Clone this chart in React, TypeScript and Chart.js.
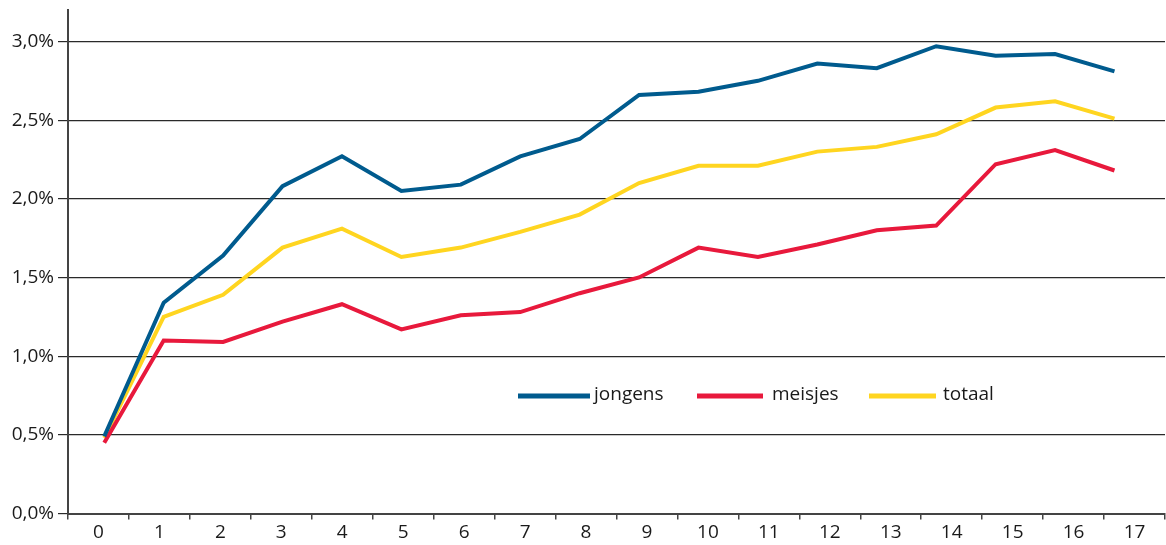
import { useEffect, useRef } from 'react';
import { Chart, registerables } from 'chart.js';

Chart.register(...registerables);

const ages = ['0', '1', '2', '3', '4', '5', '6', '7', '8', '9', '10', '11', '12', '13', '14', '15', '16', '17'];
const ageValues = [0, 1, 2, 3, 4, 5, 6, 7, 8, 9, 10, 11, 12, 13, 14, 15, 16, 17];
const jongens = [0.49, 1.34, 1.64, 2.08, 2.27, 2.05, 2.09, 2.27, 2.38, 2.66, 2.68, 2.75, 2.86, 2.83, 2.97, 2.91, 2.92, 2.81];
const meisjes = [0.45, 1.1, 1.09, 1.22, 1.33, 1.17, 1.26, 1.28, 1.4, 1.5, 1.69, 1.63, 1.71, 1.8, 1.83, 2.22, 2.31, 2.18];
const totaal = [0.48, 1.25, 1.39, 1.69, 1.81, 1.63, 1.69, 1.79, 1.9, 2.1, 2.21, 2.21, 2.3, 2.33, 2.41, 2.58, 2.62, 2.51];
const seriesNames = ['jongens', 'meisjes', 'totaal'];
const seriesColors = ['#005b8e', '#e8193c', '#ffd520'];
const yTickValues = [0, 0.5, 1, 1.5, 2, 2.5, 3];

const FONT = '"Open Sans", "Noto Sans", sans-serif';

const legendInside = {
  id: 'legendInside',
  afterDraw(chart: any) {
    const ctx = chart.ctx;
    const items = [
      { x0: 518, x1: 590, tx: 594 },
      { x0: 697, x1: 763, tx: 772 },
      { x0: 869, x1: 936, tx: 943 },
    ];
    const y = 396;
    ctx.save();
    chart.data.datasets.forEach((ds: any, i: number) => {
      const it = items[i];
      if (!it) return;
      ctx.strokeStyle = ds.borderColor;
      ctx.lineWidth = 5;
      ctx.lineCap = 'butt';
      ctx.beginPath();
      ctx.moveTo(it.x0, y);
      ctx.lineTo(it.x1, y);
      ctx.stroke();
      ctx.fillStyle = '#1a1a1a';
      ctx.font = `19px ${FONT}`;
      ctx.textBaseline = 'middle';
      ctx.textAlign = 'left';
      ctx.fillText(ds.label, it.tx, y - 1);
    });
    ctx.restore();
  },
};

export default function App() {
  const ref = useRef<HTMLCanvasElement | null>(null);

  useEffect(() => {
    if (!ref.current) return;
    const series = [jongens, meisjes, totaal];
    const chart = new Chart(ref.current, {
      type: 'line',
      data: {
        labels: ages,
        datasets: series.map((vals, si) => ({
          label: seriesNames[si],
          data: ageValues.map((x, i) => ({ x, y: vals[i] })),
          borderColor: seriesColors[si],
          backgroundColor: seriesColors[si],
          borderWidth: 4,
          pointRadius: 0,
          tension: 0,
          fill: false,
          xAxisID: 'x2',
          yAxisID: 'y',
        })),
      },
      options: {
        animation: false,
        responsive: false,
        devicePixelRatio: 1,
        layout: { padding: { top: 10, right: 1, left: 0, bottom: 0 } },
        plugins: {
          legend: { display: false },
          tooltip: { enabled: false },
        },
        scales: {
          x: {
            type: 'category',
            position: 'bottom',
            offset: true,
            grid: {
              offset: true,
              drawOnChartArea: false,
              drawTicks: true,
              tickLength: 6,
              color: '#444',
              lineWidth: 1.5,
            },
            border: { display: true, color: '#444', width: 2 },
            ticks: {
              color: '#1a1a1a',
              font: { family: FONT, size: 19 },
              padding: 2,
              maxRotation: 0,
              autoSkip: false,
            },
            afterFit: (s: any) => {
              s.height = 31.5;
            },
          },
          x2: {
            type: 'linear',
            display: false,
            min: -0.61,
            max: 17.85,
          },
          y: {
            type: 'linear',
            min: 0,
            max: 3.2,
            afterBuildTicks: (s: any) => {
              s.ticks = yTickValues.map((v) => ({ value: v }));
            },
            ticks: {
              color: '#1a1a1a',
              font: { family: FONT, size: 19 },
              padding: 4,
              callback: (v: any) => Number(v).toFixed(1).replace('.', ',') + '%',
            },
            grid: {
              color: '#2a2a2a',
              lineWidth: 1.2,
              tickLength: 10,
            },
            border: { display: true, color: '#444', width: 2 },
            afterFit: (s: any) => {
              s.width = 68;
              s.paddingTop = 0;
              s.paddingBottom = 0;
            },
          },
        },
      },
      plugins: [legendInside],
    } as any);
    return () => chart.destroy();
  }, []);

  return (
    <div style={{ position: 'absolute', left: 0, top: 0, width: 1166, height: 545, background: '#fff' }}>
      <canvas ref={ref} width={1166} height={545} style={{ display: 'block', width: 1166, height: 545 }} />
    </div>
  );
}
